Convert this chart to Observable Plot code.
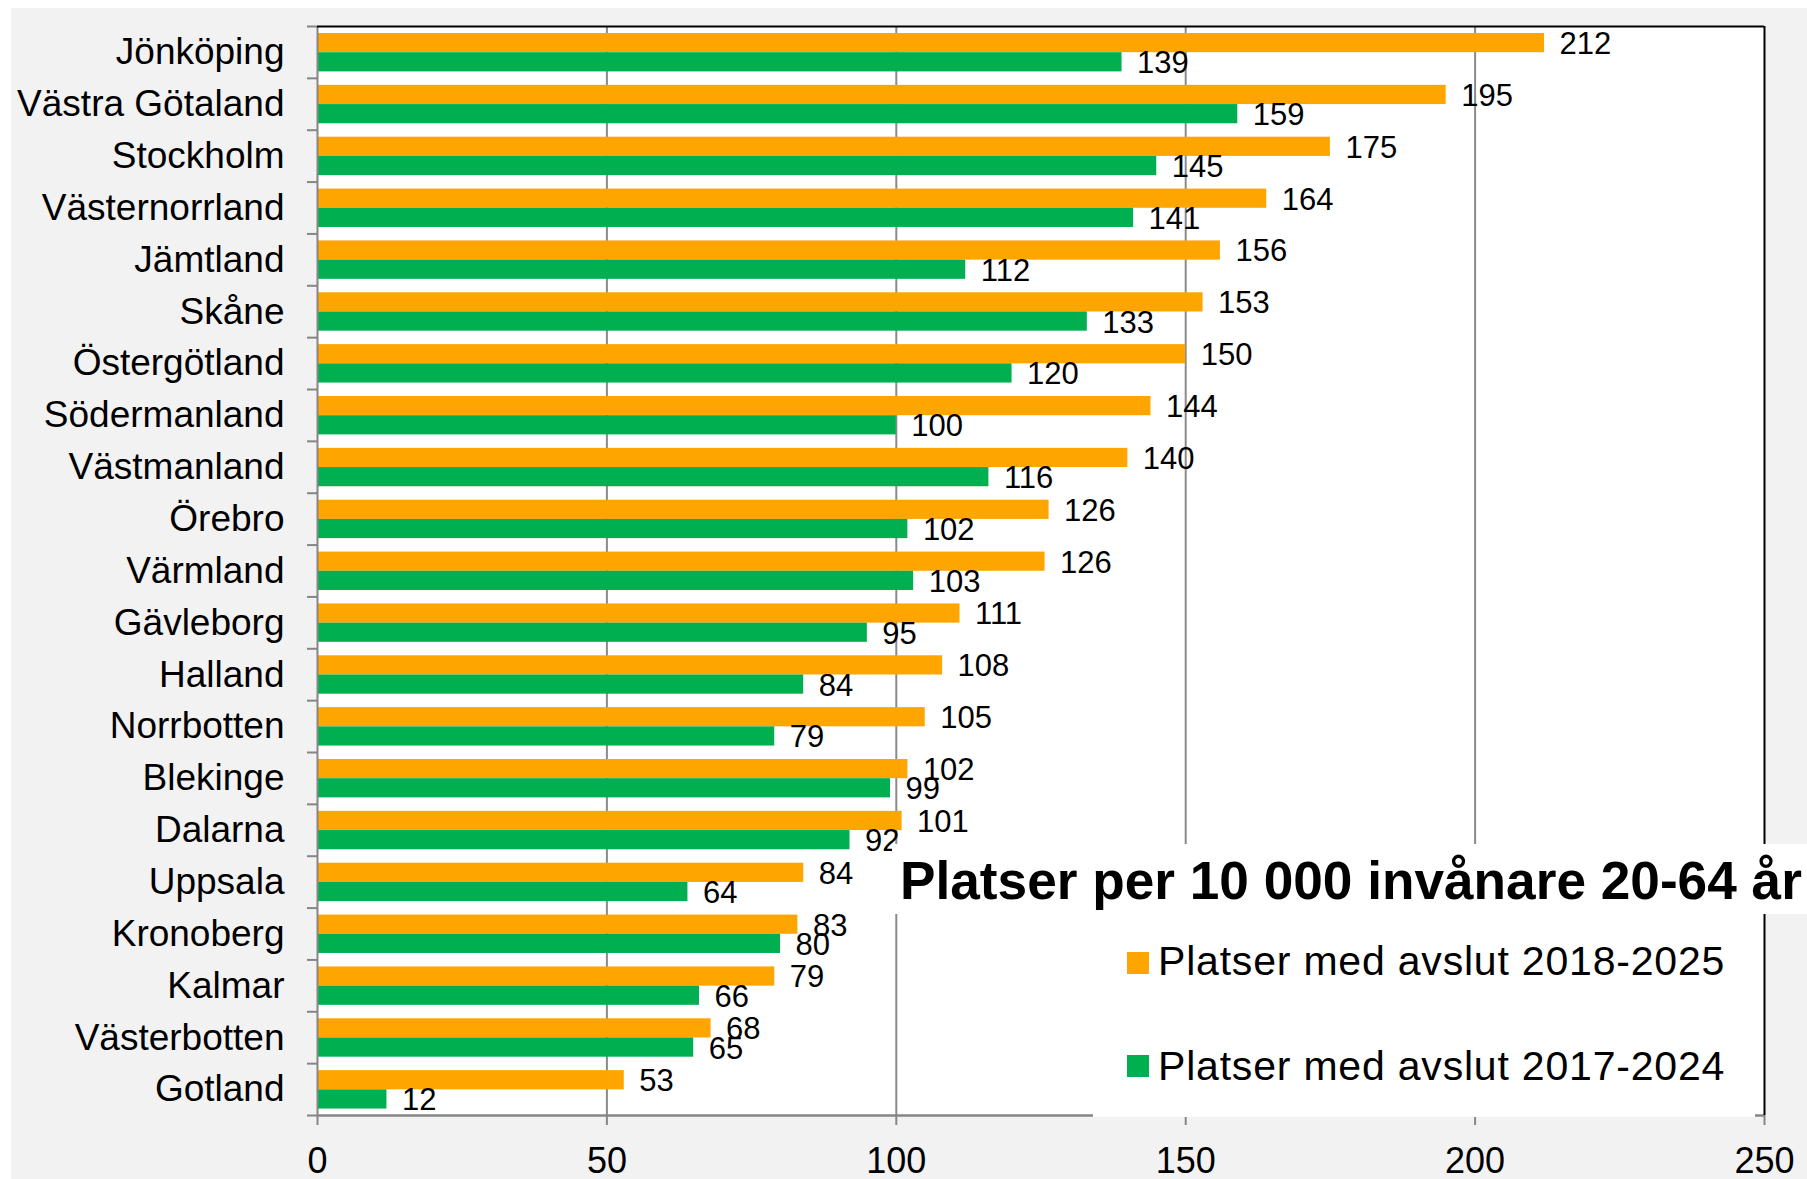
<!DOCTYPE html>
<html><head><meta charset="utf-8">
<script src="https://cdn.jsdelivr.net/npm/d3@7"></script>
<script src="https://cdn.jsdelivr.net/npm/@observablehq/plot@0.6"></script>
<style>
html,body{margin:0;padding:0;background:#fff;}
#wrap{position:relative;width:1807px;height:1179px;overflow:hidden;font-family:"Liberation Sans",Arial,sans-serif;color:#000;}
#bg{position:absolute;left:11px;top:8px;right:0;bottom:0;background:#f2f2f2;}
#chart{position:absolute;left:0;top:0;}
#title{position:absolute;left:892px;top:844px;width:915px;height:70px;background:#fff;}
#title span{position:absolute;left:8px;top:10px;font-weight:bold;font-size:53.2px;line-height:53px;white-space:nowrap;}
#legend{position:absolute;left:1093px;top:914px;width:662px;height:203px;background:#fff;}
.sw{position:absolute;left:34px;width:22px;height:22px;}
.lab{position:absolute;left:65px;font-size:41px;line-height:41px;letter-spacing:0.8px;white-space:nowrap;}
</style></head>
<body>
<div id="wrap"><div id="bg"></div><div id="chart"></div><div id="title"><span></span></div><div id="legend"></div></div>
<script>
// ---- data ----
const regions = ["Jönköping","Västra Götaland","Stockholm","Västernorrland","Jämtland","Skåne","Östergötland","Södermanland","Västmanland","Örebro","Värmland","Gävleborg","Halland","Norrbotten","Blekinge","Dalarna","Uppsala","Kronoberg","Kalmar","Västerbotten","Gotland"];
const values2018_2025 = [212,195,175,164,156,153,150,144,140,126.4,125.7,111,108,105,102,101,84,83,79,68,53];
const values2017_2024 = [139,159,145,141,112,133,120,100,116,102,103,95,84,79,99,92,64,80,66,65,12];
const seriesNames = ["Platser med avslut 2018-2025","Platser med avslut 2017-2024"];
const seriesColors = ["#FFA500","#00B050"];
const xTicks = [0,50,100,150,200,250];
const gridTicks = [50,100,150,200];
const titleText = "Platser per 10 000 invånare 20-64 år";

// ---- layout ----
const W = 1807, H = 1179;
const mL = 317, mR = 43, mT = 26, mB = 64;
const bw = (H - mT - mB) / regions.length;
const padTop = 7, barH = 19.2;
const axisGray = "#868686";
const fmt = d3.format(".0f");

const rowsA = regions.map((r,i)=>({region:r, value:values2018_2025[i], series:seriesNames[0]}));
const rowsB = regions.map((r,i)=>({region:r, value:values2017_2024[i], series:seriesNames[1]}));
const last = regions[regions.length-1];

const chart = Plot.plot({
  width: W, height: H,
  marginLeft: mL, marginRight: mR, marginTop: mT, marginBottom: mB,
  style: {background:"transparent", fontFamily:'"Liberation Sans", Arial, sans-serif', color:"#000", overflow:"visible"},
  x: {domain:[0,250], label:null},
  y: {domain: regions, padding:0, round:false, label:null},
  color: {domain: seriesNames, range: seriesColors},
  marks: [
    Plot.frame({fill:"white", stroke:"none"}),
    Plot.gridX(gridTicks, {stroke:"#8a8a8a", strokeOpacity:1, strokeWidth:2}),
    Plot.barX(rowsA, {x:"value", y:"region", fill:"series", insetTop: padTop, insetBottom: bw - padTop - barH}),
    Plot.barX(rowsB, {x:"value", y:"region", fill:"series", insetTop: padTop + barH, insetBottom: bw - padTop - 2*barH}),
    Plot.text(rowsA, {x:"value", y:"region", text: d=>fmt(d.value), textAnchor:"start", dx:15, dy: padTop + barH/2 - bw/2 + 1, fontSize:31, fill:"#000"}),
    Plot.text(rowsB, {x:"value", y:"region", text: d=>fmt(d.value), textAnchor:"start", dx:15, dy: padTop + 1.5*barH - bw/2 + 1, fontSize:31, fill:"#000"}),
    Plot.ruleX([0], {stroke: axisGray, strokeWidth: 2}),
    Plot.ruleY([last], {dy: bw/2, stroke: axisGray, strokeWidth: 2.5}),
    Plot.ruleY([regions[0]], {dy: -bw/2, stroke:"#000", strokeWidth:2}),
    Plot.ruleX([250], {stroke:"#000", strokeWidth:2}),
    Plot.axisY({tickSize:0, tickPadding:33, fontSize:37, label:null}),
    Plot.axisY({tickSize:10, fill:"none", stroke:axisGray, strokeWidth:2, dy:-bw/2, label:null}),
    Plot.axisY([last], {tickSize:10, fill:"none", stroke:axisGray, strokeWidth:2, dy:bw/2, label:null}),
    Plot.axisX(xTicks, {tickSize:10, tickPadding:21.7, fontSize:36, stroke:axisGray, strokeWidth:2, label:null})
  ]
});
document.getElementById("chart").appendChild(chart);

document.querySelector("#title span").textContent = titleText;
const legend = document.getElementById("legend");
const swTops = [38.3, 141];
const labTops = [27, 132];
seriesNames.forEach((name,i)=>{
  const sw = document.createElement("div");
  sw.className = "sw"; sw.style.top = swTops[i]+"px"; sw.style.background = seriesColors[i];
  const lab = document.createElement("div");
  lab.className = "lab"; lab.style.top = labTops[i]+"px"; lab.textContent = name;
  legend.appendChild(sw); legend.appendChild(lab);
});
</script>
</body></html>
